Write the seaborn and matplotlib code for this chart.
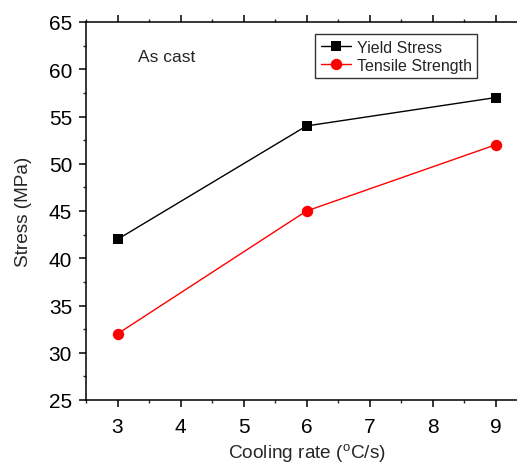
import matplotlib
matplotlib.use("Agg")
import matplotlib.pyplot as plt
import seaborn as sns
import pandas as pd
from matplotlib.ticker import MultipleLocator
from matplotlib.lines import Line2D

cooling_rate = [3, 6, 9]
yield_stress = [42, 54, 57]
tensile_strength = [32, 45, 52]
series_names = ["Yield Stress", "Tensile Strength"]

df = pd.DataFrame({
    "Cooling rate": cooling_rate * 2,
    "Stress": yield_stress + tensile_strength,
    "Series": [series_names[0]] * 3 + [series_names[1]] * 3,
})

sns.set_style("ticks")
plt.rcParams["font.family"] = ["Liberation Sans", "DejaVu Sans"]
plt.rcParams["mathtext.default"] = "regular"

fig = plt.figure(figsize=(5.17, 4.64), dpi=100)
ax = fig.add_axes([86/517, 63/464, (527-86)/517, (401-23)/464])

sns.lineplot(data=df, x="Cooling rate", y="Stress", hue="Series", style="Series",
             palette={series_names[0]: "black", series_names[1]: "red"},
             markers={series_names[0]: "s", series_names[1]: "o"},
             dashes=False, linewidth=1, ax=ax, legend=False)
for line, ms in zip(ax.lines, [7.2, 8.2]):
    line.set_markersize(ms)
    line.set_markeredgewidth(0)

ax.set_xlim(2.5, 9.5)
ax.set_ylim(25, 65)
ax.xaxis.set_major_locator(MultipleLocator(1))
ax.xaxis.set_minor_locator(MultipleLocator(0.5))
ax.yaxis.set_major_locator(MultipleLocator(5))
ax.yaxis.set_minor_locator(MultipleLocator(2.5))

for s in ["left", "bottom", "top"]:
    ax.spines[s].set_visible(True)
    ax.spines[s].set_linewidth(1.1)
    ax.spines[s].set_color("black")
ax.spines["right"].set_visible(False)

ax.tick_params(axis="both", which="major", direction="out", length=5, width=1.1,
               labelsize=15, colors="black", pad=5)
ax.tick_params(axis="both", which="minor", direction="out", length=2.5, width=1.0)
ax.tick_params(axis="x", which="major", pad=7)
ax.tick_params(axis="x", which="major", top=True)
ax.tick_params(axis="x", which="minor", top=True)

ax.set_xlabel("Cooling rate ($^{o}$C/s)", fontsize=13.7, labelpad=4)
ax.set_ylabel("Stress (MPa)", fontsize=13.7, labelpad=12)

ax.text(3.33, 61.3, "As cast", fontsize=12.5, va="center", ha="left")

handles = [
    Line2D([], [], color="black", lw=1, marker="s", markersize=7, markeredgewidth=0),
    Line2D([], [], color="red", lw=1, marker="o", markersize=8.2, markeredgewidth=0),
]
leg = fig.legend(handles, series_names, loc="upper left",
                 bbox_to_anchor=(315/517, (464-35)/464), borderaxespad=0,
                 fontsize=11.5, frameon=True, fancybox=False, edgecolor="black",
                 handlelength=1.9, handletextpad=0.35, borderpad=0.35, labelspacing=0.2)
leg.get_frame().set_linewidth(1.0)

fig.savefig("out.png", dpi=100)
